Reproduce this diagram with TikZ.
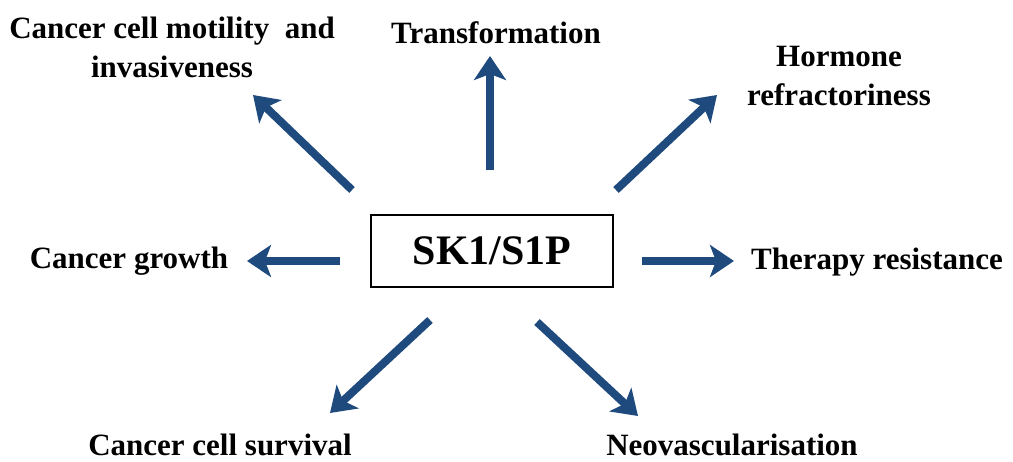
\documentclass[tikz,border=0pt]{standalone}
\usepackage{fontspec}
\setmainfont{Liberation Serif}
\usetikzlibrary{arrows.meta}
\definecolor{arrowblue}{HTML}{1F4A7E}
\tikzset{
  lbl/.style={font=\bfseries\fontsize{31}{39}\selectfont, align=center, inner sep=0pt},
  bigarrow/.style={draw=arrowblue, line width=8pt, -{Stealth[length=24pt, width=32pt, inset=6pt]}},
}
\begin{document}
\begin{tikzpicture}[x=1pt, y=-1pt]
\useasboundingbox (0,0) rectangle (1013,462);
\node[draw=black, line width=1.5pt, minimum width=242pt, minimum height=72pt, inner sep=0pt,
      font=\bfseries\fontsize{42}{48}\selectfont] (c) at (492,251) {SK1/S1P};

\node[lbl] (ul) at (172,47) {Cancer cell motility\ \ and\\invasiveness};
\node[lbl] (u) at (496,33) {Transformation};
\node[lbl] (ur) at (839,76) {Hormone\\refractoriness};
\node[lbl] (l) at (129,261) {Cancer growth};
\node[lbl] (r) at (877,262) {Therapy resistance};
\node[lbl] (dl) at (220,445) {Cancer cell survival};
\node[lbl] (dr) at (732,445) {Neovascularisation};

\coordinate (ulA) at (352,190); \coordinate (ulB) at (253,95);
\coordinate (uA) at (490,170); \coordinate (uB) at (490,56);
\coordinate (urA) at (616,190); \coordinate (urB) at (717,95);
\coordinate (lA) at (340,261); \coordinate (lB) at (247,261);
\coordinate (rA) at (642,261); \coordinate (rB) at (734,261);
\coordinate (dlA) at (430,320); \coordinate (dlB) at (330,413);
\coordinate (drA) at (537,322); \coordinate (drB) at (638,416);

\draw[bigarrow] (ulA) -- (ulB);
\draw[bigarrow] (uA) -- (uB);
\draw[bigarrow] (urA) -- (urB);
\draw[bigarrow] (lA) -- (lB);
\draw[bigarrow] (rA) -- (rB);
\draw[bigarrow] (dlA) -- (dlB);
\draw[bigarrow] (drA) -- (drB);
\end{tikzpicture}
\end{document}
